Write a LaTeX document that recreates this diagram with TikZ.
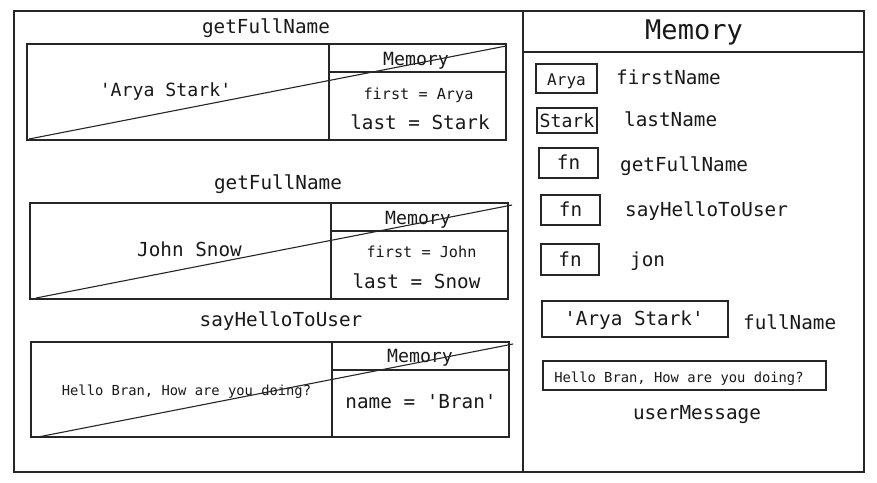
\documentclass[tikz,border=0pt]{standalone}
\usepackage{fontspec}
\setmonofont{DejaVu Sans Mono}
\begin{document}
\begin{tikzpicture}[x=1pt,y=-1pt,
  ink/.style={draw=black!85,line width=1.1pt},
  frame/.style={ink,inner sep=0pt,anchor=center},
  tx/.style={inner sep=0pt,text=black!90,text height=0.72em,text depth=0.2em,yshift=-4pt},
  tn/.style={tx,font=\ttfamily\fontsize{19.3}{23}\selectfont},
  ts/.style={tx,font=\ttfamily\fontsize{15.2}{18}\selectfont},
  tm/.style={tx,font=\ttfamily\fontsize{16}{19}\selectfont},
  tk/.style={tx,font=\ttfamily\fontsize{18.2}{21}\selectfont},
  tt/.style={tx,font=\ttfamily\fontsize{13.8}{16}\selectfont},
  tb/.style={tx,font=\ttfamily\fontsize{27}{31}\selectfont},
  diag/.style={draw=black!85,line width=1.1pt}
]
\useasboundingbox (0,0) rectangle (877,482);
\fill[white] (0,0) rectangle (877,482);

% outer panels
\node[frame,minimum width=509pt,minimum height=461pt] (L) at (268.5,241.5) {};
\node[frame,minimum width=341pt,minimum height=461pt] (R) at (693.5,241.5) {};
\node[frame,minimum width=341pt,minimum height=41pt] (RH) at (693.5,31.5) {};
\node[tb] (RHt) at (694,33) {Memory};

% ---- frame 1
\node[tn] (t1) at (266,27) {getFullName};
\node[frame,minimum width=479pt,minimum height=96pt] (f1) at (266.5,92) {};
\node[frame,minimum width=177pt,minimum height=28pt] (m1h) at (417.5,58) {};
\node[frame,minimum width=177pt,minimum height=68pt] (m1b) at (417.5,106) {};
\node[tk] at (416,59) {Memory};
\node[ts] (v1a) at (418.5,93) {first = Arya};
\node[tn] (v1b) at (420,123) {last = Stark};
\node[tk] (r1) at (165.5,90) {'Arya Stark'};
\coordinate (d1a) at (29,139);
\coordinate (d1b) at (506,46);
\draw[diag] (d1a) -- (d1b);

% ---- frame 2
\node[tn] (t2) at (278,183) {getFullName};
\node[frame,minimum width=478pt,minimum height=96pt] (f2) at (269,251) {};
\node[frame,minimum width=177pt,minimum height=28pt] (m2h) at (419.5,217) {};
\node[frame,minimum width=177pt,minimum height=68pt] (m2b) at (419.5,265) {};
\node[tk] at (418,218) {Memory};
\node[ts] (v2a) at (421.5,251) {first = John};
\node[tn] (v2b) at (416.5,282) {last = Snow};
\node[tn] (r2) at (189.5,250) {John Snow};
\coordinate (d2a) at (36,298);
\coordinate (d2b) at (512,205);
\draw[diag] (d2a) -- (d2b);

% ---- frame 3
\node[tn] (t3) at (281,320) {sayHelloToUser};
\node[frame,minimum width=478pt,minimum height=95pt] (f3) at (270,389.5) {};
\node[frame,minimum width=177pt,minimum height=28pt] (m3h) at (420.5,356) {};
\node[frame,minimum width=177pt,minimum height=67pt] (m3b) at (420.5,403.5) {};
\node[tk] at (420,356) {Memory};
\node[tn] (v3a) at (421,402) {name = 'Bran'};
\node[tt] (r3) at (186.5,389) {Hello Bran, How are you doing?};
\coordinate (d3a) at (38,437);
\coordinate (d3b) at (513,344);
\draw[diag] (d3a) -- (d3b);

% ---- global memory
\node[frame,minimum width=61pt,minimum height=29pt] (bA) at (566.5,78.5) {};
\node[tm] at (bA.center) {Arya};
\node[tn,anchor=west] (lA) at (616,78) {firstName};

\node[frame,minimum width=60pt,minimum height=25pt] (bS) at (567,120.5) {};
\node[tk] at (bS.center) {Stark};
\node[tn,anchor=west] (lS) at (624,120) {lastName};

\node[frame,minimum width=59pt,minimum height=30pt] (bF1) at (568.5,163) {};
\node[tn] at (bF1.center) {fn};
\node[tn,anchor=west] (lF1) at (620,165) {getFullName};

\node[frame,minimum width=59pt,minimum height=30pt] (bF2) at (570.5,210) {};
\node[tn] at (bF2.center) {fn};
\node[tn,anchor=west] (lF2) at (625,210) {sayHelloToUser};

\node[frame,minimum width=58pt,minimum height=31pt] (bF3) at (570,259.5) {};
\node[tn] at (bF3.center) {fn};
\node[tn,anchor=west] (lF3) at (630,260) {jon};

\node[frame,minimum width=186pt,minimum height=36pt] (bFN) at (635,319) {};
\node[tn] at (634,319) {'Arya Stark'};
\node[tn,anchor=west] (lFN) at (743,323) {fullName};

\node[frame,minimum width=283pt,minimum height=29pt] (bUM) at (684.5,375.5) {};
\node[tt] at (679,376) {Hello Bran, How are you doing?};
\node[tn] (lUM) at (697,413) {userMessage};
\end{tikzpicture}
\end{document}
